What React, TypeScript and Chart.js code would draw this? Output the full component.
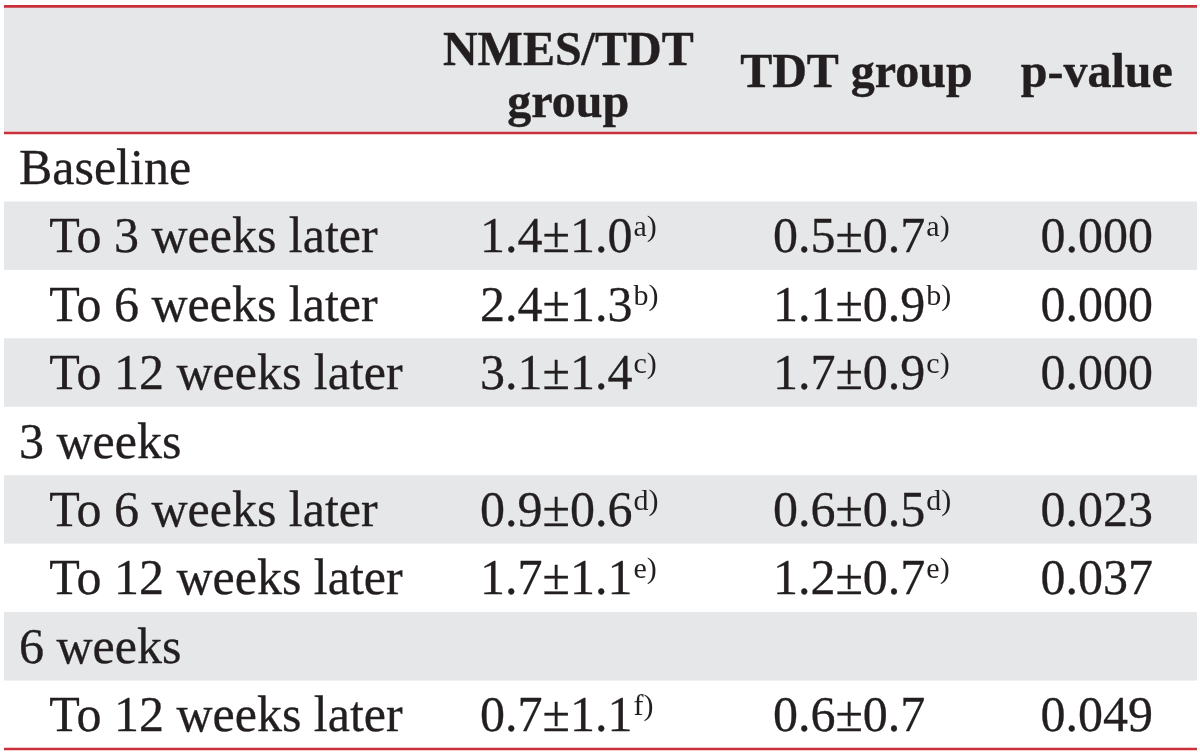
import React, { useEffect, useRef } from "react";
import { Chart, registerables } from "chart.js";

Chart.register(...registerables);

// ---- data ----
const columnHeaders: string[][] = [["NMES/TDT", "group"], ["TDT group"], ["p-value"]];
const rowLabels = [
  "Baseline",
  "To 3 weeks later",
  "To 6 weeks later",
  "To 12 weeks later",
  "3 weeks",
  "To 6 weeks later",
  "To 12 weeks later",
  "6 weeks",
  "To 12 weeks later",
];
const rowIsGroup = [true, false, false, false, true, false, false, true, false];
const nmesMean = [null, 1.4, 2.4, 3.1, null, 0.9, 1.7, null, 0.7];
const nmesSD = [null, 1.0, 1.3, 1.4, null, 0.6, 1.1, null, 1.1];
const nmesSup = [null, "a)", "b)", "c)", null, "d)", "e)", null, "f)"];
const tdtMean = [null, 0.5, 1.1, 1.7, null, 0.6, 1.2, null, 0.6];
const tdtSD = [null, 0.7, 0.9, 0.9, null, 0.5, 0.7, null, 0.7];
const tdtSup = [null, "a)", "b)", "c)", null, "d)", "e)", null, null];
const pValues = [null, "0.000", "0.000", "0.000", null, "0.023", "0.037", null, "0.049"];

// ---- layout (in scale units) ----
const HEADER_UNITS = 1.85; // header height measured in data-row units
const X_GROUP = 1.25;
const X_SUB = 3.8;
const X_NMES_VAL = 39.9;
const X_NMES_HEAD = 47.3;
const X_TDT_VAL = 64.45;
const X_TDT_HEAD = 71.45;
const X_P = 91.6;

const GREY = "#e6e7e8";
const RED = "#c9303b";
const INK = "#231f20";
const FAMILY = '"Liberation Serif", "Times New Roman", serif';

function fmt(m: number | null, s: number | null) {
  if (m === null || s === null) return "";
  return m.toFixed(1) + "\u00b1" + s.toFixed(1);
}

const tablePlugin = {
  id: "tablePlugin",
  beforeDatasetsDraw(chart: any) {
    const { ctx, scales } = chart;
    const x = scales.x;
    const y = scales.y;
    const left = x.getPixelForValue(0);
    const right = x.getPixelForValue(100);
    ctx.save();
    ctx.fillStyle = GREY;
    const h0 = y.getPixelForValue(0);
    const h1 = y.getPixelForValue(HEADER_UNITS);
    ctx.fillRect(left, h0, right - left, h1 - h0);
    rowLabels.forEach((_, i) => {
      if (i % 2 === 1) {
        const a = y.getPixelForValue(HEADER_UNITS + i);
        const b = y.getPixelForValue(HEADER_UNITS + i + 1);
        ctx.fillRect(left, a, right - left, b - a);
      }
    });
    ctx.strokeStyle = RED;
    ctx.lineWidth = 2.6;
    [0, HEADER_UNITS, HEADER_UNITS + rowLabels.length].forEach((v) => {
      const py = y.getPixelForValue(v);
      ctx.beginPath();
      ctx.moveTo(left, py);
      ctx.lineTo(right, py);
      ctx.stroke();
    });
    ctx.restore();
  },
  afterDatasetsDraw(chart: any) {
    const { ctx, scales } = chart;
    const x = scales.x;
    const y = scales.y;
    ctx.save();
    ctx.fillStyle = INK;
    ctx.strokeStyle = INK;
    ctx.lineJoin = "round";
    ctx.textBaseline = "alphabetic";

    const put = (txt: string, px: number, py: number, weight: number) => {
      ctx.fillText(txt, px, py);
      if (weight > 0) {
        ctx.lineWidth = weight;
        ctx.strokeText(txt, px, py);
      }
    };

    // header
    ctx.font = `bold 48px ${FAMILY}`;
    ctx.textAlign = "center";
    const hc = y.getPixelForValue(HEADER_UNITS / 2);
    const headX = [X_NMES_HEAD, X_TDT_HEAD, X_P];
    columnHeaders.forEach((lines, c) => {
      const px = x.getPixelForValue(headX[c]);
      if (lines.length === 1) {
        put(lines[0], px, hc + 17.5, 0.4);
      } else {
        put(lines[0], px, hc - 5, 0.4);
        put(lines[1], px, hc + 47, 0.4);
      }
    });

    // body
    const body = `50px ${FAMILY}`;
    const sup = `30px ${FAMILY}`;
    const drawWithSup = (txt: string, s: string | null, px: number, py: number) => {
      ctx.font = body;
      ctx.textAlign = "left";
      put(txt, px, py, 0.3);
      if (s) {
        const w = ctx.measureText(txt).width;
        ctx.font = sup;
        put(s, px + w + 1, py - 16, 0);
      }
    };
    rowLabels.forEach((label, i) => {
      const cy = y.getPixelForValue(HEADER_UNITS + i + 0.5);
      const base = cy + 16.5;
      ctx.font = body;
      ctx.textAlign = "left";
      put(label, x.getPixelForValue(rowIsGroup[i] ? X_GROUP : X_SUB), base, 0.3);
      const n = fmt(nmesMean[i], nmesSD[i]);
      if (n) drawWithSup(n, nmesSup[i], x.getPixelForValue(X_NMES_VAL), base);
      const t = fmt(tdtMean[i], tdtSD[i]);
      if (t) drawWithSup(t, tdtSup[i], x.getPixelForValue(X_TDT_VAL), base);
      const p = pValues[i];
      if (p) {
        ctx.font = body;
        ctx.textAlign = "center";
        put(p, x.getPixelForValue(X_P), base, 0.3);
      }
    });
    ctx.restore();
  },
};

export default function App() {
  const ref = useRef<HTMLCanvasElement | null>(null);
  useEffect(() => {
    document.body.style.margin = "0";
    const canvas = ref.current;
    if (!canvas) return;
    const chart = new Chart(canvas, {
      type: "scatter",
      data: { datasets: [{ data: [], pointRadius: 0 }] },
      options: {
        responsive: false,
        animation: false,
        devicePixelRatio: 1,
        layout: { padding: { left: 4, right: 3, top: 6.4, bottom: 6 } },
        plugins: { legend: { display: false }, tooltip: { enabled: false } },
        scales: {
          x: { type: "linear", min: 0, max: 100, display: false },
          y: {
            type: "linear",
            min: 0,
            max: HEADER_UNITS + rowLabels.length,
            reverse: true,
            display: false,
          },
        },
      },
      plugins: [tablePlugin],
    });
    return () => chart.destroy();
  }, []);
  return (
    <div style={{ width: 1200, height: 755, background: "#ffffff" }}>
      <canvas ref={ref} width={1200} height={755} style={{ display: "block" }} />
    </div>
  );
}
